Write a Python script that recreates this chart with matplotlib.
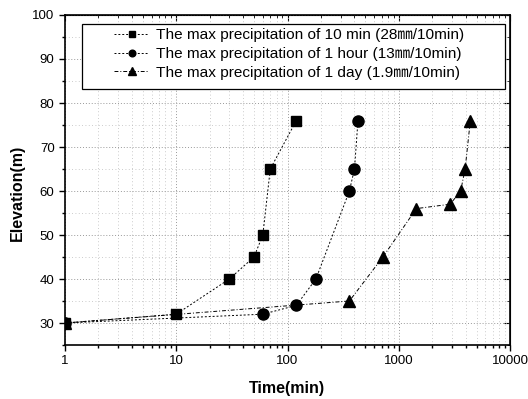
import matplotlib
matplotlib.use("Agg")
import matplotlib.pyplot as plt
from matplotlib.patches import Rectangle
from matplotlib.ticker import LogLocator, NullFormatter, MultipleLocator, FixedLocator, FixedFormatter

plt.rcParams['font.family'] = ['Liberation Sans', 'Noto Sans CJK JP', 'DejaVu Sans']

# Elapsed time (min) and elevation (m) for each rainfall scenario
time_10min = [1, 10, 30, 50, 60, 70, 120]
elev_10min = [30, 32, 40, 45, 50, 65, 76]

time_1hour = [1, 60, 120, 180, 360, 400, 430]
elev_1hour = [30, 32, 34, 40, 60, 65, 76]

time_1day = [1, 360, 720, 1440, 2900, 3600, 3950, 4400]
elev_1day = [30, 35, 45, 56, 57, 60, 65, 76]

labels = [
    "The max precipitation of 10 min (28\u339c/10min)",
    "The max precipitation of 1 hour (13\u339c/10min)",
    "The max precipitation of 1 day (1.9\u339c/10min)",
]

x_ticks = [1, 10, 100, 1000, 10000]
x_tick_labels = ["1", "10", "100", "1000", "10000"]

W, H = 528, 399
fig = plt.figure(figsize=(W/100, H/100), dpi=100)
L, R, T, B = 65, 510, 15, 345
ax = fig.add_axes([L/W, 1-B/H, (R-L)/W, (B-T)/H])


def px_to_axes(px, py):
    return (px - L) / (R - L), (B - py) / (B - T)


ax.plot(time_10min, elev_10min, color='black', lw=0.7, ls=(0, (2, 2)),
        marker='s', ms=7, label=labels[0])
ax.plot(time_1hour, elev_1hour, color='black', lw=0.7, ls=(0, (2, 2)),
        marker='o', ms=8, label=labels[1])
ax.plot(time_1day, elev_1day, color='black', lw=0.7, ls=(0, (4, 2, 1, 2)),
        marker='^', ms=8.5, label=labels[2])

ax.set_xscale('log')
ax.set_xlim(1, 10000)
ax.set_ylim(25, 100)
ax.xaxis.set_major_locator(FixedLocator(x_ticks))
ax.xaxis.set_major_formatter(FixedFormatter(x_tick_labels))
ax.xaxis.set_minor_locator(LogLocator(base=10, subs=range(2, 10)))
ax.xaxis.set_minor_formatter(NullFormatter())
ax.yaxis.set_major_locator(MultipleLocator(10))
ax.yaxis.set_minor_locator(MultipleLocator(5))

ax.grid(True, which='major', color='#999999', ls=(0, (1, 2)), lw=0.7)
ax.grid(True, which='minor', color='#bbbbbb', ls=(0, (1, 3)), lw=0.6)

ax.tick_params(which='both', direction='out', top=False, right=False,
               labelsize=9.5, width=1)
ax.tick_params(which='major', length=4)
ax.tick_params(which='minor', length=2.5)

# inward ticks on the top and right edges
ax2 = ax.secondary_xaxis('top')
ax2.xaxis.set_major_locator(FixedLocator(x_ticks))
ax2.xaxis.set_minor_locator(LogLocator(base=10, subs=range(2, 10)))
ax2.tick_params(which='both', direction='in', labeltop=False)
ax2.tick_params(which='major', length=4)
ax2.tick_params(which='minor', length=2.5)
ay2 = ax.secondary_yaxis('right')
ay2.yaxis.set_major_locator(MultipleLocator(10))
ay2.yaxis.set_minor_locator(MultipleLocator(5))
ay2.tick_params(which='both', direction='in', labelright=False)
ay2.tick_params(which='major', length=4)
ay2.tick_params(which='minor', length=2.5)

for sp in ax.spines.values():
    sp.set_linewidth(1.2)

ax.set_xlabel("Time(min)", fontsize=11.5, fontweight='bold')
ax.set_ylabel("Elevation(m)", fontsize=11.5, fontweight='bold')
ax.xaxis.set_label_coords(*px_to_axes(287, 388))
ax.yaxis.set_label_coords(*px_to_axes(17, 193))
ax.xaxis.label.set_va('center')
ax.yaxis.label.set_va('center')

# legend box
x0, y0 = px_to_axes(82, 89)
x1, y1 = px_to_axes(505, 24)
ax.add_patch(Rectangle((x0, y0), x1 - x0, y1 - y0, transform=ax.transAxes,
                       facecolor='white', edgecolor='black', lw=0.9, zorder=4))

leg = ax.legend(loc='upper left', bbox_to_anchor=px_to_axes(114, 28),
                fontsize=11.1, frameon=False, handlelength=2.3,
                handletextpad=0.45, borderpad=0, labelspacing=0.32,
                markerscale=0.6, borderaxespad=0)
leg.set_zorder(5)

fig.savefig("out.png", dpi=100)
